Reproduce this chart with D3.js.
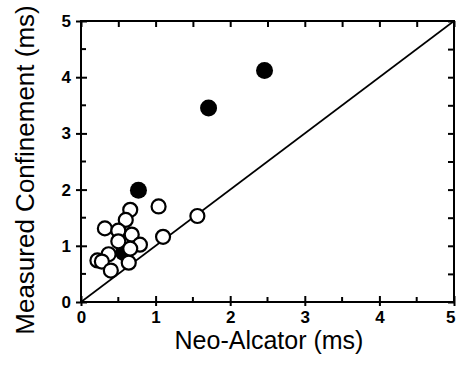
<!DOCTYPE html>
<html lang="en">
  <head>
    <meta charset="utf-8">
    <script src="https://d3js.org/d3.v7.js"></script>
    <style>
      body { margin: 0; background: #fff; }
      text { font-family: "Liberation Sans", Arial, sans-serif; fill: #000; }
      .tick text { font-size: 17px; font-weight: bold; }
    </style>
  </head>
  <body>
    <svg id="chart" width="457" height="365"></svg>
    <script>
      // open circles: [neo-alcator, measured]
      var openPts = [
        [0.66, 1.64], [0.60, 1.46], [0.32, 1.31], [0.50, 1.27], [0.68, 1.20],
        [0.79, 1.02], [0.50, 1.08], [0.37, 0.85], [0.22, 0.74], [0.28, 0.72],
        [0.40, 0.56], [0.64, 0.70], [0.66, 0.95], [1.04, 1.70], [1.10, 1.16],
        [1.56, 1.53]
      ];
      var filledPts = [[0.57, 0.88], [0.77, 1.99], [1.71, 3.45], [2.46, 4.12]];
      var majorTicks = [0, 1, 2, 3, 4, 5];
      var minorTicks = [0.5, 1.5, 2.5, 3.5, 4.5];

      var svg = d3.select("svg#chart");
      var margin = {top: 21, right: 3, bottom: 63, left: 81};
      var width = +svg.attr("width") - margin.left - margin.right;
      var height = +svg.attr("height") - margin.top - margin.bottom;

      var g = svg.append("g").attr("transform", `translate(${margin.left}, ${margin.top})`);

      var x = d3.scaleLinear().domain([0, 5]).range([0, width]);
      var y = d3.scaleLinear().domain([0, 5]).range([height, 0]);

      // frame
      g.append("rect")
        .attr("width", width).attr("height", height)
        .attr("fill", "none").attr("stroke", "#000").attr("stroke-width", 2);

      // bottom axis: major ticks cross, minor inward
      var bottomAxis = g.append("g").attr("transform", `translate(0, ${height})`);
      bottomAxis.call(d3.axisBottom(x).tickValues(majorTicks).tickSize(4).tickPadding(5).tickFormat(d3.format("d")));
      bottomAxis.selectAll(".tick line").clone().attr("y2", -6);
      // last label sits at the page edge, keep it inside
      bottomAxis.selectAll(".tick text").filter(d => d === 5).attr("text-anchor", "end").attr("x", 1);
      bottomAxis.append("g").selectAll("line").data(minorTicks).join("line")
        .attr("x1", d => x(d)).attr("x2", d => x(d)).attr("y1", 0).attr("y2", -5)
        .attr("stroke", "#000").attr("stroke-width", 2);

      var leftAxis = g.append("g");
      leftAxis.call(d3.axisLeft(y).tickValues(majorTicks).tickSize(5).tickPadding(5).tickFormat(d3.format("d")));
      leftAxis.selectAll(".tick line").clone().attr("x2", 6);
      leftAxis.append("g").selectAll("line").data(minorTicks).join("line")
        .attr("x1", 0).attr("x2", 5).attr("y1", d => y(d)).attr("y2", d => y(d))
        .attr("stroke", "#000").attr("stroke-width", 2);

      var topAxis = g.append("g");
      topAxis.call(d3.axisTop(x).tickValues(majorTicks.concat(minorTicks)).tickSize(-6).tickFormat(""));
      var rightAxis = g.append("g").attr("transform", `translate(${width}, 0)`);
      rightAxis.call(d3.axisRight(y).tickValues(majorTicks.concat(minorTicks)).tickSize(-6).tickFormat(""));

      g.selectAll(".domain").remove();
      g.selectAll(".tick line").attr("stroke-width", 2);

      // identity line
      g.append("line")
        .attr("x1", x(0)).attr("y1", y(0)).attr("x2", x(5)).attr("y2", y(5))
        .attr("stroke", "#000").attr("stroke-width", 1.6);

      g.append("g").selectAll("circle.filled").data(filledPts).join("circle")
        .attr("class", "filled")
        .attr("cx", d => x(d[0])).attr("cy", d => y(d[1])).attr("r", 8.5)
        .attr("fill", "#000");

      g.append("g").selectAll("circle").data(openPts).join("circle")
        .attr("cx", d => x(d[0])).attr("cy", d => y(d[1])).attr("r", 7)
        .attr("fill", "#fff").attr("stroke", "#000").attr("stroke-width", 2.2);

      svg.append("text")
        .attr("x", 269).attr("y", 349)
        .attr("text-anchor", "middle")
        .style("font-size", "25px")
        .text("Neo-Alcator (ms)");

      svg.append("text")
        .attr("transform", "translate(34, 170) rotate(-90)")
        .attr("text-anchor", "middle")
        .style("font-size", "26px")
        .text("Measured Confinement (ms)");
    </script>
  </body>
</html>
